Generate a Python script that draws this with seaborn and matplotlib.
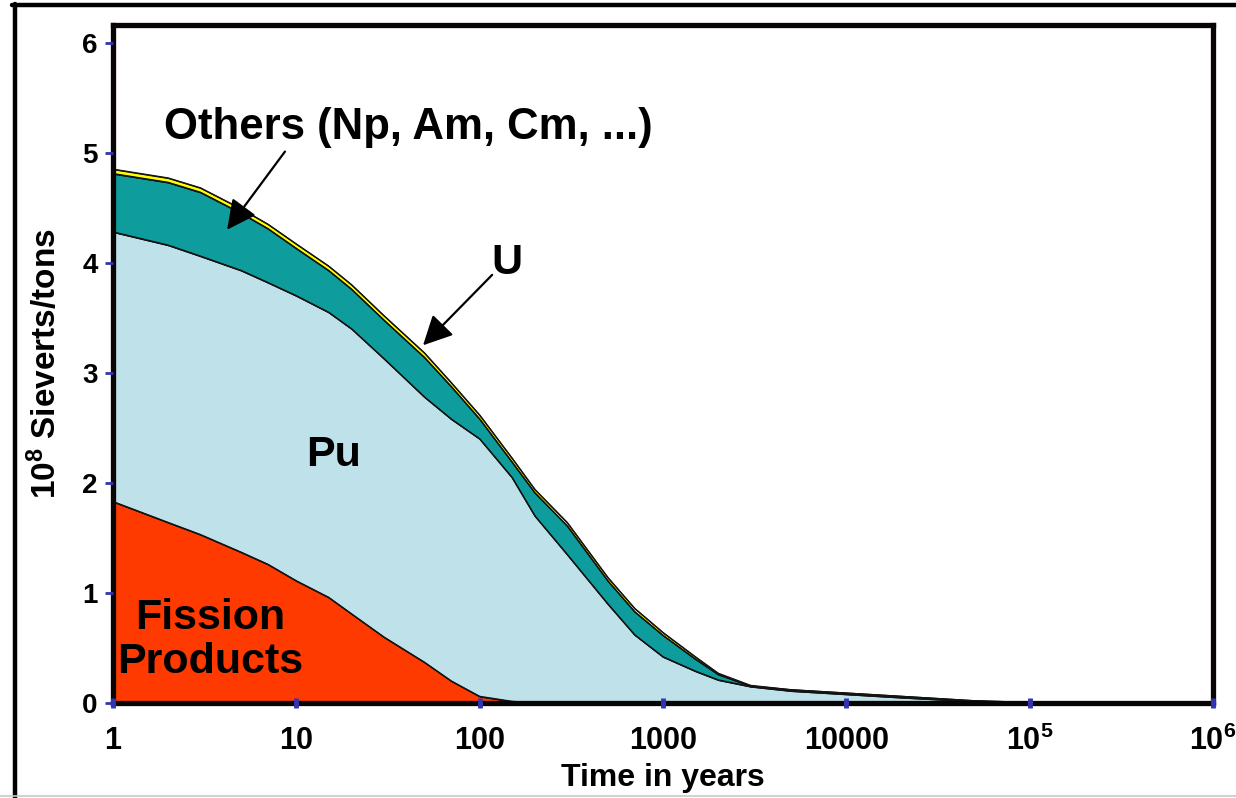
import numpy as np
import pandas as pd
import matplotlib
matplotlib.use("Agg")
import matplotlib.pyplot as plt
import seaborn as sns
from matplotlib.lines import Line2D
from matplotlib.ticker import NullLocator

# ---------------- data ----------------
years = [1, 2, 3, 5, 7, 10, 15, 20, 30, 50, 70, 100, 150, 200, 300, 500, 700,
         1000, 1500, 2000, 3000, 5000, 10000, 20000, 50000, 100000, 1000000]
fission_products = [1.83, 1.64, 1.53, 1.37, 1.26, 1.11, 0.96, 0.81, 0.60, 0.37, 0.20, 0.06, 0.015,
                    0, 0, 0, 0, 0, 0, 0, 0, 0, 0, 0, 0, 0, 0]
plutonium = [2.45, 2.52, 2.53, 2.56, 2.56, 2.59, 2.59, 2.59, 2.53, 2.41, 2.38, 2.34, 2.035,
             1.70, 1.35, 0.90, 0.62, 0.42, 0.29, 0.21, 0.15, 0.11, 0.08, 0.05, 0.015, 0.003, 0]
others = [0.53, 0.57, 0.58, 0.52, 0.49, 0.43, 0.38, 0.36, 0.35, 0.36, 0.295, 0.18, 0.14,
          0.21, 0.26, 0.21, 0.21, 0.195, 0.11, 0.05, 0.005, 0.01, 0.01, 0.01, 0.005, 0.002, 0]
uranium = [0.04, 0.04, 0.04, 0.04, 0.04, 0.04, 0.04, 0.04, 0.04, 0.04, 0.035, 0.035, 0.035,
           0.03, 0.03, 0.03, 0.03, 0.025, 0.02, 0.01, 0.005, 0, 0, 0, 0, 0, 0]

x_ticks = [1, 10, 100, 1000, 10000, 100000, 1000000]
x_tick_labels = ["1", "10", "100", "1000", "10000", r"10$^{5}$", r"10$^{6}$"]
y_ticks = [0, 1, 2, 3, 4, 5, 6]

layer_colors = ["#FF3A00", "#BFE1E9", "#0E9C9C", "#FFFF00"]

# ---------------- style ----------------
sns.set_theme(style="white")
plt.rcParams["font.family"] = ["Liberation Sans", "DejaVu Sans"]
plt.rcParams["font.weight"] = "bold"
plt.rcParams["text.color"] = "black"
plt.rcParams["axes.labelcolor"] = "black"
plt.rcParams["xtick.labelcolor"] = "black"
plt.rcParams["ytick.labelcolor"] = "black"
plt.rcParams["mathtext.fontset"] = "custom"
plt.rcParams["mathtext.rm"] = "Liberation Sans:bold"
plt.rcParams["mathtext.bf"] = "Liberation Sans:bold"
plt.rcParams["mathtext.it"] = "Liberation Sans:bold:italic"
plt.rcParams["mathtext.default"] = "rm"

fig = plt.figure(figsize=(12.36, 7.98), dpi=100)
ax = fig.add_axes([113 / 1236, 1 - 703 / 798, (1213 - 113) / 1236, (703 - 25) / 798])

ax.stackplot(years, fission_products, plutonium, others, uranium,
             colors=layer_colors, edgecolor="#111111", linewidth=0.9)

# dark boundary lines drawn with seaborn on top of the filled layers
cum = np.cumsum(np.vstack([fission_products, plutonium, others, uranium]), axis=0)
bounds = pd.DataFrame({
    "years": np.tile(years, 4),
    "value": cum.ravel(),
    "layer": np.repeat(["fp", "pu", "oth", "u"], len(years)),
})
sns.lineplot(data=bounds, x="years", y="value", units="layer", estimator=None,
             color="#141414", linewidth=1.0, legend=False, ax=ax, sort=False)

ax.set_xscale("log")
ax.set_xlim(1, 1e6)
ax.set_ylim(0, 6.16)
ax.set_xticks(x_ticks)
ax.set_xticklabels(x_tick_labels)
ax.xaxis.set_minor_locator(NullLocator())
ax.set_yticks(y_ticks)
ax.set_yticklabels([str(v) for v in y_ticks])

ax.tick_params(axis="x", which="major", direction="inout", length=7, width=3.5,
               color="#3434B0", labelcolor="black", labelsize=22, pad=13, bottom=True)
ax.tick_params(axis="y", which="major", direction="out", length=6, width=2,
               color="#3434B0", labelcolor="black", labelsize=20, pad=5, left=True)
for lab in ax.get_xticklabels() + ax.get_yticklabels():
    lab.set_fontweight("bold")
ax.xaxis.set_zorder(3)
ax.yaxis.set_zorder(3)

for sp in ax.spines.values():
    sp.set_visible(True)
    sp.set_color("#0A0505")
    sp.set_linewidth(3.8)

ax.set_xlabel("Time in years", fontsize=23, fontweight="bold", labelpad=4, color="black")
ax.set_ylabel("10$^{8}$ Sieverts/tons", fontsize=24, fontweight="bold", labelpad=14,
              color="black")

# ---------------- annotations ----------------
arrow_kw = dict(arrowstyle="-|>,head_length=0.9,head_width=0.45", color="black",
                lw=1.6, mutation_scale=20, shrinkA=0, shrinkB=0)
ax.annotate("", xy=(4.19, 4.30), xytext=(8.67, 5.01), arrowprops=arrow_kw)
ax.text(40.7, 5.23, "Others (Np, Am, Cm, ...)", fontsize=31.5, fontweight="bold",
        ha="center", va="center", color="black")
ax.annotate("", xy=(49.1, 3.25), xytext=(117, 3.89), arrowprops=arrow_kw)
ax.text(141, 4.0, "U", fontsize=31, fontweight="bold", ha="center", va="center",
        color="black")
ax.text(15.9, 2.25, "Pu", fontsize=31, fontweight="bold", ha="center", va="center",
        color="black")
ax.text(3.38, 0.57, "Fission\nProducts", fontsize=31, fontweight="bold",
        ha="center", va="center", linespacing=1.12, color="black")

# outer frame of the picture
fig.add_artist(Line2D([14.5 / 1236, 14.5 / 1236], [0, 1 - 4 / 798],
                      transform=fig.transFigure, color="black", lw=3.2))
fig.add_artist(Line2D([12 / 1236, 1], [1 - 5 / 798, 1 - 5 / 798],
                      transform=fig.transFigure, color="black", lw=3.2))
fig.add_artist(Line2D([0, 1], [2 / 798, 2 / 798],
                      transform=fig.transFigure, color="#C8C8C8", lw=1.2))

fig.savefig("out.png", dpi=100)
